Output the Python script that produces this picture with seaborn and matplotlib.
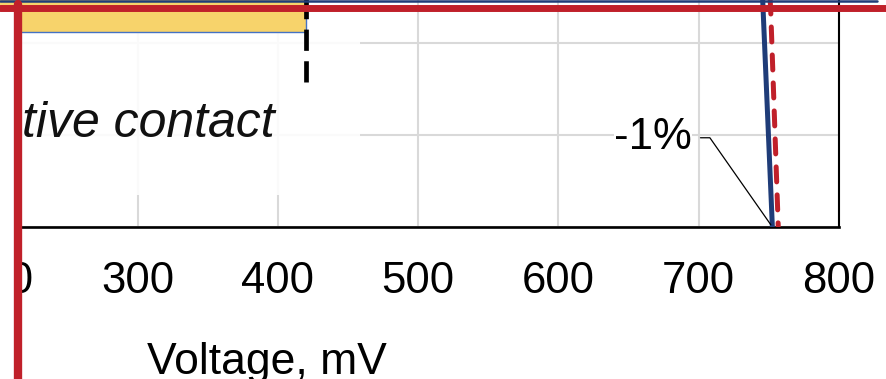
import matplotlib
matplotlib.use("Agg")
import matplotlib.pyplot as plt
import seaborn as sns
import pandas as pd
from matplotlib.patches import Rectangle
from matplotlib.lines import Line2D

# ---- data ----
x_ticks = [0, 100, 200, 300, 400, 500, 600, 700, 800]
y_ticks = [0, 5, 10]

blue_v = [743.5, 745.9, 752.5, 753.1]   # mV
blue_j = [16.0, 11.8, 0.0, -1.0]
red_v = [748.5, 751.3, 756.7, 757.2]
red_j = [16.0, 11.8, 0.0, -1.0]

bar_y = [11.6]
bar_len = [420]
bar_h = [2.0]

marker_v = [420]
marker_lo = [7.9]
marker_hi = [14.0]

label_text = "Selective contact"
annot_text = "-1%"

NAVY = "#1F3C78"
RED = "#C0202A"
YELLOW = "#F7D36B"

sns.set_theme(style="white")
plt.rcParams["font.family"] = ["Liberation Sans", "DejaVu Sans"]

W, H = 886, 379
fig = plt.figure(figsize=(W / 100, H / 100), dpi=100)
px_per_mv = 1.404
x0_px = 138 - 300 * px_per_mv
x1_px = 839
y_bottom_px = 227
px_per_unit = 18.4
ymax = 14.0
ax = fig.add_axes([x0_px / W, (H - y_bottom_px) / H, (x1_px - x0_px) / W,
                   ymax * px_per_unit / H])

# translucent white box behind label area
ax.add_patch(Rectangle((0, 1.74), 458.6, ymax, facecolor="white", alpha=0.88,
                       edgecolor="none", zorder=1.5))

# yellow bar
ax.barh(bar_y, bar_len, height=bar_h, left=0, color=YELLOW, edgecolor="#4472C4",
        linewidth=1.0, zorder=2)

# black dashed marker
ax.vlines(marker_v, marker_lo, marker_hi, colors="black", linewidth=3.4,
          linestyles=(0, (4.5, 2.2)), zorder=3)

ax.text(397.6, 4.9, label_text, fontsize=36, style="italic", ha="right",
        va="baseline", color="#111111", zorder=3)

# curves
df_b = pd.DataFrame({"v": blue_v, "j": blue_j})
df_r = pd.DataFrame({"v": red_v, "j": red_j})
sns.lineplot(data=df_b, x="v", y="j", sort=False, estimator=None, color=NAVY,
             linewidth=3.6, ax=ax, zorder=4)
sns.lineplot(data=df_r, x="v", y="j", sort=False, estimator=None, color=RED,
             linewidth=3.6, ax=ax, zorder=5)
ax.lines[-1].set_dashes((3.0, 2.6))
ax.lines[-1].set_dash_capstyle("round")

ax.annotate(annot_text, xy=(blue_v[2], blue_j[2]), xytext=(695.3, 4.85),
            textcoords="data", ha="right", va="center", fontsize=31.5,
            color="black", zorder=6,
            bbox=dict(boxstyle="square,pad=0.0", fc="white", ec="none"),
            arrowprops=dict(arrowstyle="-", color="black", lw=0.9,
                            shrinkA=6, shrinkB=2, relpos=(1, 0.5),
                            connectionstyle="angle,angleA=0,angleB=125,rad=0"))

ax.set_xlim(0, 800)
ax.set_ylim(0, ymax)
ax.set_xticks(x_ticks)
ax.set_yticks(y_ticks)
ax.grid(True, color="#D9D9D9", lw=1.5)
ax.set_axisbelow(True)
for s in ["left", "top"]:
    ax.spines[s].set_visible(False)
ax.spines["bottom"].set_color("black")
ax.spines["bottom"].set_linewidth(1.9)
ax.spines["right"].set_color("black")
ax.spines["right"].set_linewidth(1.5)
ax.tick_params(axis="x", length=0, pad=24.5, labelsize=31.5, labelcolor="black")
ax.tick_params(axis="y", length=0, labelsize=31)
ax.set_ylabel("")
ax.set_xlabel("Voltage, mV", fontsize=32, color="black", labelpad=29)
ax.xaxis.label.set_x((267 - x0_px) / (x1_px - x0_px))

# frame lines of the crop
fig.add_artist(Rectangle((0, 0), 14 / W, (H - 11) / H, transform=fig.transFigure,
                         facecolor="white", edgecolor="none", zorder=10))
fig.add_artist(Line2D([0, 877 / W], [(H - 1) / H] * 2, transform=fig.transFigure,
                      color=NAVY, lw=1.8, zorder=11))
fig.add_artist(Line2D([0, 1], [(H - 7.5) / H] * 2, transform=fig.transFigure,
                      color=RED, lw=5.0, zorder=12))
fig.add_artist(Line2D([17.8 / W] * 2, [0, (H - 4) / H], transform=fig.transFigure,
                      color=RED, lw=6.0, zorder=12))

fig.savefig("out.png", dpi=100)
